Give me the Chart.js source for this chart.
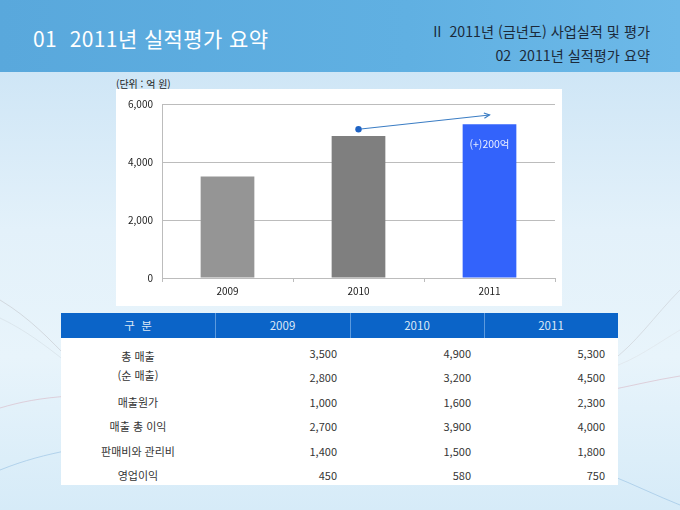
<!DOCTYPE html>
<html lang="ko">
<head>
<meta charset="utf-8">
<script src="https://cdn.jsdelivr.net/npm/chart.js@4/dist/chart.umd.min.js"></script>
<style>
  html, body { margin: 0; padding: 0; }
  body { width: 680px; height: 510px; overflow: hidden; font-family: "Noto Sans CJK KR", "Noto Sans", sans-serif; }
  #slide { position: relative; width: 680px; height: 510px; overflow: hidden;
    background: linear-gradient(180deg, #cfe6f6 14%, #e3f1fa 45%, #e8f4fb 70%, #d6ebf8 100%); }
  #bg { position: absolute; left: 0; top: 0; }
  #header { position: absolute; left: 0; top: 0; width: 680px; height: 72px;
    background: linear-gradient(90deg, #59a8dc 0%, #60b0e2 60%, #6db9e8 100%); }
  #title { position: absolute; left: 33px; top: 25px; font-size: 21px; line-height: 26px; color: #fff; letter-spacing: 0.4px; }
  .sec { position: absolute; right: 30px; font-size: 14.2px; line-height: 17px; color: #1c2a3a; }
  #sec1 { top: 23px; }
  #sec2 { top: 47px; }
  #unit { position: absolute; left: 116px; top: 77px; font-size: 10px; line-height: 14px; color: #222; }
  #chartBox { position: absolute; left: 116px; top: 89px; width: 446px; height: 217px; background: #fff; }
  #table { position: absolute; left: 61px; top: 313px; width: 557px; font-size: 11px; color: #353535; }
  #thead { position: relative; height: 25px; background: #0b64c8; }
  #tbody { position: relative; height: 147px; background: #fff; }
  .cell { position: absolute; top: 0; height: 25px; line-height: 25px; text-align: center; color: #dce8f6; font-size: 11.5px; }
  .div { position: absolute; top: 0; width: 1px; height: 25px; background: #5c9ade; }
  .row { position: absolute; left: 0; width: 557px; height: 24.5px; line-height: 24.5px; }
  .num { position: absolute; top: 0; text-align: right; box-sizing: border-box; padding-right: 13px; }
  .lab { position: absolute; top: 0; left: 0; width: 154px; text-align: center; }
  #lab0 { position: absolute; left: 0; top: 9px; width: 154px; text-align: center; line-height: 19px; }
</style>
</head>
<body>
<div id="slide">
  <svg id="bg" width="680" height="510">
    <path d="M0,300 C30,318 50,340 70,360" stroke="#c9cdd3" stroke-width="1" fill="none" opacity="0.7"/>
    <path d="M0,318 C25,330 45,345 70,365" stroke="#d4dde4" stroke-width="1" fill="none" opacity="0.6"/>
    <path d="M0,408 C20,402 40,398 70,396" stroke="#d9b8c4" stroke-width="1" fill="none" opacity="0.6"/>
    <path d="M0,470 C25,460 45,455 70,450" stroke="#9fc6e6" stroke-width="1" fill="none" opacity="0.7"/>
    <path d="M610,362 C635,345 655,315 680,290" stroke="#cfd3d8" stroke-width="1" fill="none" opacity="0.7"/>
    <path d="M610,368 C635,360 655,345 680,330" stroke="#dde3e8" stroke-width="1" fill="none" opacity="0.6"/>
    <path d="M610,390 C635,385 655,380 680,376" stroke="#d9b8c4" stroke-width="1" fill="none" opacity="0.6"/>
    <path d="M610,475 C635,485 655,495 680,505" stroke="#9fc6e6" stroke-width="1" fill="none" opacity="0.7"/>
  </svg>
  <div id="header">
    <div id="title">01&nbsp;&nbsp;2011년 실적평가 요약</div>
    <div class="sec" id="sec1">II&nbsp;&nbsp;2011년 (금년도) 사업실적 및 평가</div>
    <div class="sec" id="sec2">02&nbsp;&nbsp;2011년 실적평가 요약</div>
  </div>
  <div id="unit">(단위 : 억 원)</div>
  <div id="chartBox"><canvas id="myChart" width="446" height="217"></canvas></div>
  <div id="table"><div id="thead"></div><div id="tbody"></div></div>
</div>
<script>
const years = ['2009', '2010', '2011'];
const totalSales = [3500, 4900, 5300];
const netSales = [2800, 3200, 4500];
const costOfSales = [1000, 1600, 2300];
const grossProfit = [2700, 3900, 4000];
const sgaExpense = [1400, 1500, 1800];
const operatingIncome = [450, 580, 750];
const trendLine = [null, 5130, 5620];
const trendLabel = '(+)200억';
const yTicks = [0, 2000, 4000, 6000];
const headLabel = '구  분';
const rowNames = ['매출원가', '매출 총 이익', '판매비와 관리비', '영업이익'];

const barColors = ['#959595', '#7f7f7f', '#3363fb'];
const gridGray = '#bcbcbc';
const fmt = v => v.toLocaleString('en-US');

// table
const colX = [0, 154, 289, 423, 557];
const thead = document.getElementById('thead');
[headLabel].concat(years).forEach((t, i) => {
  const c = document.createElement('div');
  c.className = 'cell';
  c.style.left = colX[i] + 'px';
  c.style.width = (colX[i + 1] - colX[i]) + 'px';
  c.style.whiteSpace = 'pre';
  c.textContent = t;
  thead.appendChild(c);
  if (i > 0) {
    const d = document.createElement('div');
    d.className = 'div';
    d.style.left = colX[i] + 'px';
    thead.appendChild(d);
  }
});
const tbody = document.getElementById('tbody');
const lab0 = document.createElement('div');
lab0.id = 'lab0';
lab0.innerHTML = '총 매출<br>(순 매출)';
tbody.appendChild(lab0);
const rows = [totalSales, netSales, costOfSales, grossProfit, sgaExpense, operatingIncome];
rows.forEach((vals, r) => {
  const row = document.createElement('div');
  row.className = 'row';
  row.style.top = (2.5 + 24.5 * r) + 'px';
  if (r >= 2) {
    const l = document.createElement('div');
    l.className = 'lab';
    l.textContent = rowNames[r - 2];
    row.appendChild(l);
  }
  vals.forEach((v, i) => {
    const n = document.createElement('div');
    n.className = 'num';
    n.style.left = colX[i + 1] + 'px';
    n.style.width = (colX[i + 2] - colX[i + 1]) + 'px';
    n.textContent = fmt(v);
    row.appendChild(n);
  });
  tbody.appendChild(row);
});

// chart extras: arrow head and bar label
const extras = {
  id: 'extras',
  afterDatasetsDraw(chart) {
    const ctx = chart.ctx;
    const pts = chart.getDatasetMeta(0).data;
    const a = pts[1], b = pts[2];
    const ang = Math.atan2(b.y - a.y, b.x - a.x);
    ctx.save();
    ctx.strokeStyle = '#3b7dc4';
    ctx.lineWidth = 1.2;
    ctx.beginPath();
    ctx.moveTo(b.x - 6 * Math.cos(ang - 0.45), b.y - 6 * Math.sin(ang - 0.45));
    ctx.lineTo(b.x, b.y);
    ctx.lineTo(b.x - 6 * Math.cos(ang + 0.45), b.y - 6 * Math.sin(ang + 0.45));
    ctx.stroke();
    const bar = chart.getDatasetMeta(1).data[2];
    ctx.fillStyle = '#e8eeff';
    ctx.font = '10.5px "Noto Sans CJK KR", sans-serif';
    ctx.textAlign = 'center';
    ctx.textBaseline = 'middle';
    ctx.fillText(trendLabel, bar.x, bar.y + 20);
    ctx.restore();
  }
};

const tickFont = { family: '"Noto Sans CJK KR", sans-serif', size: 10 };
new Chart(document.getElementById('myChart'), {
  data: {
    labels: years,
    datasets: [{
      type: 'line',
      data: trendLine,
      borderColor: '#3b7dc4',
      borderWidth: 1.2,
      pointRadius: [0, 3.2, 0],
      pointBackgroundColor: '#1f63c4',
      pointBorderWidth: 0,
      order: 0
    }, {
      type: 'bar',
      data: totalSales,
      backgroundColor: barColors,
      barPercentage: 0.41,
      categoryPercentage: 1.0,
      order: 1
    }]
  },
  options: {
    responsive: false,
    animation: false,
    devicePixelRatio: 1,
    layout: { padding: { left: 0, right: 7, top: 14, bottom: 0 } },
    plugins: { legend: { display: false }, tooltip: { enabled: false } },
    scales: {
      x: {
        offset: true,
        grid: {
          offset: true,
          color: c => (c.index === 0 || c.index === years.length) ? gridGray : 'transparent',
          tickColor: gridGray,
          tickLength: 4
        },
        border: { display: true, color: gridGray },
        ticks: { color: '#222', font: tickFont, padding: 3 },
        afterFit: s => { s.height = 28; }
      },
      y: {
        min: yTicks[0],
        max: yTicks[yTicks.length - 1],
        afterBuildTicks: s => { s.ticks = yTicks.map(v => ({ value: v })); },
        grid: { color: gridGray, drawTicks: false },
        border: { display: true, color: gridGray },
        ticks: { color: '#222', font: tickFont, padding: 9, callback: v => fmt(v) },
        afterFit: s => { s.width = 46; }
      }
    }
  },
  plugins: [extras]
});
</script>
</body>
</html>
